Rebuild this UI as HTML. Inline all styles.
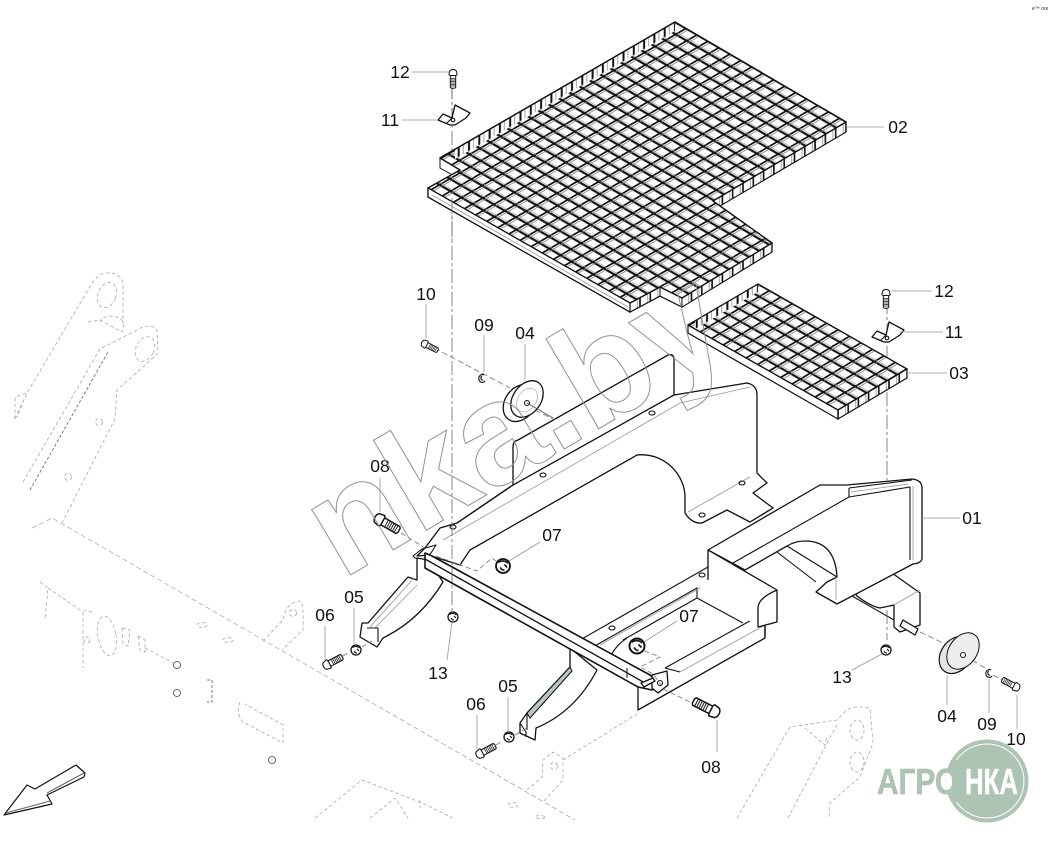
<!DOCTYPE html>
<html><head><meta charset="utf-8"><style>
html,body{margin:0;padding:0;background:#fff}
svg{display:block}
.g{fill:none;stroke:#a3ada8;stroke-width:.8;stroke-dasharray:3.5 2.5}
.gd{fill:none;stroke:#6a726e;stroke-width:.9;stroke-dasharray:3 2}
.k{fill:#fff;stroke:#111;stroke-width:1.3;stroke-linejoin:round}
.n{fill:none;stroke:#111;stroke-width:1.1;stroke-linejoin:round}
.t{fill:none;stroke:#8f9995;stroke-width:.8}
.l{fill:none;stroke:#6f7773;stroke-width:.8}
.a{fill:none;stroke:#666;stroke-width:.8;stroke-dasharray:14 3 3 3}
text.p{font:17.5px "Liberation Sans",sans-serif;fill:#111;text-anchor:middle}
</style></head><body>
<svg width="1048" height="843" viewBox="0 0 1048 843" xmlns="http://www.w3.org/2000/svg">
<defs>
<pattern id="g2" patternUnits="userSpaceOnUse" width="10" height="10" patternTransform="matrix(1.03 -.6 1.1 .64 675 22)">
<rect width="10" height="10" fill="#fff"/>
<path d="M0 0H10M0 10H10" stroke="#111" stroke-width="1.5" fill="none"/>
<path d="M0 0V10M10 0V10" stroke="#111" stroke-width="2.1" fill="none"/>
<path d="M0 2.1H10" stroke="#777" stroke-width=".7" fill="none"/>
<path d="M2.1 0V10" stroke="#999" stroke-width=".6" fill="none"/>
</pattern>
<pattern id="g3" patternUnits="userSpaceOnUse" width="10" height="10" patternTransform="matrix(1.02 -.61 1.15 .65 758 284)">
<rect width="10" height="10" fill="#fff"/>
<path d="M0 0H10M0 10H10" stroke="#111" stroke-width="1.4" fill="none"/>
<path d="M0 0V10M10 0V10" stroke="#111" stroke-width="2" fill="none"/>
<path d="M0 2.1H10" stroke="#777" stroke-width=".7" fill="none"/>
<path d="M2.1 0V10" stroke="#999" stroke-width=".6" fill="none"/>
</pattern>
<pattern id="w1" patternUnits="userSpaceOnUse" width="10.3" height="10" patternTransform="matrix(1 -.58 0 1 846 122)">
<rect width="10.3" height="10" fill="#fff"/><path d="M0 0V10M10.3 0V10" stroke="#111" stroke-width="1.6"/><path d="M7.5 0V10" stroke="#999" stroke-width=".9"/>
</pattern>
<pattern id="w2" patternUnits="userSpaceOnUse" width="10.3" height="10" patternTransform="matrix(1 -.58 0 1 675 22)">
<rect width="10.3" height="10" fill="#fff"/><path d="M0 0V10M10.3 0V10" stroke="#111" stroke-width="2"/><path d="M4.5 0V10" stroke="#999" stroke-width=".9"/>
</pattern>
<pattern id="w3" patternUnits="userSpaceOnUse" width="10.2" height="10" patternTransform="matrix(1 -.6 0 1 838 410)">
<rect width="10.2" height="10" fill="#fff"/><path d="M0 0V10M10.2 0V10" stroke="#111" stroke-width="1.6"/><path d="M7.5 0V10" stroke="#999" stroke-width=".9"/>
</pattern>
<pattern id="w4" patternUnits="userSpaceOnUse" width="10.2" height="10" patternTransform="matrix(1 -.6 0 1 758 284)">
<rect width="10.2" height="10" fill="#fff"/><path d="M0 0V10M10.2 0V10" stroke="#111" stroke-width="2"/><path d="M4.5 0V10" stroke="#999" stroke-width=".9"/>
</pattern>
<g id="bolt">
<path class="k" d="M0-4.5Q-2-3-2 0T0 4.5L5 5.5Q7 3 7 0T5-5.5Z"/>
<path class="k" d="M6-3.6H22L23-2V2L22 3.6H6Z"/>
<path d="M10-3.6V3.6M12-3.6V3.6M14-3.6V3.6M16-3.6V3.6M18-3.6V3.6M20-3.6V3.6" stroke="#222" stroke-width=".9"/>
</g>
<g id="nut">
<circle r="5" class="k"/><path class="n" d="M-3.5-2.5Q0-5 3.5-2M-2 1Q-1 3 1 3M1-1L3 1"/>
</g>
</defs>

<!-- ghost background -->
<g class="g">
<path d="M15 419V397L27 393L88 290Q98 272 107 273Q118 272 123 282V323"/>
<path d="M23 482L100 349L137 330Q150 322 157 330L158 353L143 367L117 390L115 419L62 523"/>
<path d="M30 490L108 352" class="gd"/>
<ellipse cx="107" cy="295" rx="9" ry="13" transform="rotate(20 107 295)"/>
<ellipse cx="145" cy="349" rx="9" ry="13" transform="rotate(25 145 349)"/>
<circle cx="99" cy="422" r="3.5"/><circle cx="68" cy="477" r="3.5"/>
<path d="M88 322L100 320L122 332Q128 318 112 316Q102 316 100 322"/>
<path d="M15 419L27 393M22 405L17 417"/>
<path d="M32 528L52 518L575 820" stroke-dasharray="5 3"/>
<path d="M40 582L48 588L45 620M48 588L80 610L92 612M83 612V668"/>
<ellipse cx="107" cy="636" rx="9" ry="20" transform="rotate(-10 107 636)"/>
<circle cx="87" cy="640" r="3"/>
<path d="M122 628L130 630L128 646L123 644ZM138 636L145 640V652L140 650ZM145 648L177 665"/>
<path d="M207 680H212V702H207" class="gd"/>
<path d="M240 702Q236 715 243 722L283 743V725L245 704"/>
<ellipse cx="202" cy="625" rx="5" ry="2.5"/><ellipse cx="228" cy="640" rx="5" ry="2.5"/>
<path d="M263 641L283 620Q286 602 300 601Q304 602 303 630L282 650"/>
<circle cx="293" cy="613" r="3.5"/>
<path d="M315 818L362 780L420 802L453 818M370 818L395 798L408 818M420 800V808"/>
<path d="M527 790L542 777L543 760L553 752L563 758V780L543 802M563 760L640 712"/>
<circle cx="554" cy="766" r="3.5"/><ellipse cx="513" cy="805" rx="5" ry="2.5"/><ellipse cx="540" cy="817" rx="5" ry="1.5"/>
<path d="M737 818L790 727L837 720L847 710Q855 705 870 708L873 743L860 777L830 803L829 818"/>
<path d="M788 818L827 743L837 725"/>
<ellipse cx="857" cy="730" rx="7" ry="10"/><ellipse cx="857" cy="762" rx="7" ry="10"/>
<path d="M805 728L825 745L827 735"/>
</g>
<g fill="#fff" stroke="#444" stroke-width=".8">
<circle cx="177" cy="665" r="3.5"/><circle cx="177" cy="693" r="3.5"/><circle cx="272" cy="760" r="3.5"/>
</g>
<!-- direction arrow -->
<path d="M4 815L27 785L35 789L76 765L85 773L84 777L47 795L52 804Z" fill="#fff" stroke="#111" stroke-width="1.2" stroke-linejoin="round"/>
<path d="M6 813L50 801M47 793L84 773" stroke="#666" stroke-width="1" fill="none"/>

<!-- left bracket panel -->
<path class="k" d="M513 447Q513 441 518 440L668 355Q674 353 674 360V395L747 383Q757 385 757 395V473L767 483L753 493L773 508L750 522L727 510L702 523Q692 524 685 513V495C683 470 660 452 637 455L470 550L460 565L428 555L417 556L425 548L440 528L457 523L513 485Z"/>
<path d="M457 523L513 485L674 395" stroke="#111" stroke-width="1.3" fill="none"/>
<path class="t" d="M443 540L680 403L750 387M688 512L750 477M750 527L773 513"/>
<path d="M750 522L773 508" stroke="#111" stroke-width="1"/>
<ellipse cx="543" cy="475" rx="3" ry="2" class="n"/><ellipse cx="652" cy="413" rx="3" ry="2" class="n"/>
<ellipse cx="453" cy="527" rx="3" ry="2" class="n"/><ellipse cx="742" cy="483" rx="3" ry="2" class="n"/><ellipse cx="702" cy="515" rx="3" ry="2" class="n"/>
<path class="n" d="M413 556L422 549L436 545L431 553L424 560L415 558Z"/>

<!-- left arm -->
<path class="k" d="M417 558V580L408 577L368 623L362 623L360 637L377 647L383 638Q420 620 443 582L428 560Z"/>
<path class="t" d="M370 627L414 578M375 628L417 585"/>
<path class="n" d="M367 628H378V642"/>
<!-- right arm -->
<path class="k" d="M570 648V667L527 713L520 723V733L535 740L536 728Q575 712 597 670Z"/>
<path d="M527 713L570 667L572 671L530 718Z" fill="#bcc5c0" stroke="#111" stroke-width="1"/>
<path class="n" d="M520 723L526 732V737M527 713V730"/>

<!-- tray -->
<path fill="#fff" d="M580 640L708 565V580L777 590V625L765 638L638 710V687Z"/>
<path class="n" d="M580 640L708 567V550M593 647L697 588V598M623 640L697 598L743 623M665 668L757 617M610 657Q616 645 627 638"/>
<path class="t" d="M680 672L765 625M600 645L700 588"/>
<path class="k" style="fill:none" d="M638 687V710L765 638V625"/>
<path class="n" d="M665 668L680 672"/>
<ellipse cx="612" cy="628" rx="3" ry="2" class="n"/><ellipse cx="702" cy="575" rx="3" ry="2" class="n"/>

<!-- front bar -->
<path class="k" style="stroke-width:1.6" d="M425 553L432 556L650 675L660 684L652 690L638 687L425 568Z"/>
<path d="M425 559L645 683" stroke="#111" stroke-width="1.3"/>
<path d="M570 648V667M627 668V678" stroke="#111" stroke-width="1"/>
<!-- lug -->
<path class="k" d="M652 675L667 671L668 685L658 693L652 688Z"/>
<circle cx="660" cy="683" r="2.5" class="n"/>
<path class="k" d="M641 683L653 678L655 681L644 687Z"/>

<!-- lower right bracket -->
<path class="k" d="M855 593L892 573L920 593V625L900 632L894 627V605L880 608Q870 606 857 596Z"/>
<path class="n" d="M852 596L894 620"/>
<path class="t" d="M894 605L920 590"/>
<path class="k" d="M900 626L903 620L918 629L915 635Z"/>

<!-- box 01 -->
<path class="n" d="M777 552L816 582M787 546L837 577"/>
<path class="k" d="M708 550L820 485L847 485L912 479Q922 480 922 488V558Q922 563 913 564L837 604L816 592L827 582L837 577Q835 541 805 541Q795 541 787 546L745 570Z"/>
<path fill="#fff" d="M708 550L777 590V622L758 627L708 590Z"/>
<path class="k" style="fill:none" d="M708 550V580M708 550L777 590V622L758 627V608Q758 598 777 590M765 625V637"/>
<path class="n" d="M733 563L849 497V488M849 488L912 480M849 497L910 487V560"/>
<path class="t" d="M913 486V560M851 492L908 484M836 577V600"/>

<!-- axis lines -->
<path class="a" d="M452 85V612"/>
<path class="a" d="M887 300V480M887 610V640"/>
<path class="l" stroke-dasharray="6 3" d="M434 348L510 388M535 410L555 420"/>
<path class="l" stroke-dasharray="6 3" d="M920 632L945 644M972 660L985 668M993 675L1004 681"/>
<path class="l" stroke-dasharray="5 3" d="M401 533L425 548M436 556L477 571L492 558L503 566"/>
<path class="l" stroke-dasharray="5 3" d="M637 648L660 657L640 667L653 674L665 690L690 702"/>
<path class="l" stroke-dasharray="5 3" d="M343 656L350 652M362 647L372 641M496 745L503 741M515 735L527 728"/>

<!-- main grating 02 -->
<path class="k" d="M428 188V197L630 312L660 296L682 307L772 252V243L713 210L846 132V122L713 200Z"/>
<path d="M630 303V312L660 296V287Z" fill="url(#w1)" stroke="#111"/>
<path d="M682 298V307L772 252V243Z" fill="url(#w1)" stroke="#111"/>
<path d="M713 201V210L846 132V122Z" fill="url(#w1)" stroke="#111"/>
<path d="M660 287V296L682 307V298Z" fill="#fff" stroke="#111"/>
<path d="M440 158V168L458 178L470 172L440 158Z" fill="#fff" stroke="#111"/>
<path d="M428 188L460 170L440 158L675 22L846 122L713 201L772 243L682 298L660 287L630 303Z" fill="url(#g2)" stroke="#111" stroke-width="1.4" stroke-linejoin="round"/>
<path d="M455 150L675 22V31L455 159Z" fill="url(#w2)" stroke="none"/>
<path d="M440 158L675 22L846 122" stroke="#111" stroke-width="1.4" fill="none"/>
<path d="M428 188V197L630 312V303Z" fill="#fff" stroke="#111" stroke-width="1.2"/>
<path d="M432 195L628 307" stroke="#999" stroke-width=".8"/>

<!-- grating 03 -->
<path d="M688 325V333L838 419V410Z" fill="#fff" stroke="#111" stroke-width="1.2"/>
<path d="M838 410V419L907 378V369Z" fill="url(#w3)" stroke="#111" stroke-width="1.2"/>
<path d="M688 325L758 284L907 369L838 410Z" fill="url(#g3)" stroke="#111" stroke-width="1.3" stroke-linejoin="round"/>
<path d="M695 321L758 284V292L695 329Z" fill="url(#w4)" stroke="none"/>
<path d="M688 325L758 284" stroke="#111" stroke-width="1.3"/>

<!-- axis over gratings -->
<path d="M452 85V120M452 198V240" stroke="#666" stroke-width=".8" stroke-dasharray="14 3 3 3"/>

<!-- clips -->
<path class="k" d="M438 120L443 114L452 118L455 105L470 113L466 118L455 125L450 125Z"/>
<path class="n" d="M447 123L452 118"/>
<circle cx="453" cy="120" r="1.8" class="n"/>
<path class="k" d="M872 337L877 331L886 335L889 322L904 330L900 335L889 342L884 342Z"/>
<path class="n" d="M881 340L886 335"/>
<circle cx="887" cy="338" r="1.8" class="n"/>

<!-- rubber mounts -->
<ellipse cx="520" cy="403" rx="15" ry="20" transform="rotate(35 520 403)" class="k"/>
<ellipse cx="527" cy="399" rx="14" ry="20" transform="rotate(35 527 399)" class="k"/>
<ellipse cx="527" cy="400" rx="9" ry="13" transform="rotate(35 527 400)" fill="none" stroke="#aaa" stroke-width=".7"/>
<circle cx="527" cy="403" r="2.5" class="n"/>
<path d="M527 403L553 418" stroke="#555" stroke-width=".8"/>
<ellipse cx="956" cy="655" rx="15" ry="20" transform="rotate(35 956 655)" fill="#e3e6e4" stroke="#111" stroke-width="1.2"/>
<ellipse cx="963" cy="651" rx="14" ry="20" transform="rotate(35 963 651)" fill="#eceeed" stroke="#111" stroke-width="1"/>
<circle cx="963" cy="655" r="2.5" fill="#fff" stroke="#111"/>

<!-- bolts -->
<use href="#bolt" transform="translate(453 71) rotate(90) scale(.75)"/>
<use href="#bolt" transform="translate(886 291) rotate(90) scale(.75)"/>
<use href="#bolt" transform="translate(423 343) rotate(27) scale(.72)"/>
<use href="#bolt" transform="translate(377 518) rotate(30) scale(1.1)"/>
<use href="#bolt" transform="translate(717 713) rotate(207) scale(1.15)"/>
<use href="#bolt" transform="translate(325 666) rotate(-28) scale(.85)"/>
<use href="#bolt" transform="translate(478 755) rotate(-28) scale(.85)"/>
<use href="#bolt" transform="translate(1018 688) rotate(208) scale(.78)"/>

<!-- nuts & washers -->
<use href="#nut" transform="translate(503 566) scale(1.4)"/>
<use href="#nut" transform="translate(637 646) scale(1.5)"/>
<use href="#nut" transform="translate(356 650)"/>
<use href="#nut" transform="translate(509 737)"/>
<use href="#nut" transform="translate(453 617)"/>
<use href="#nut" transform="translate(886 650)"/>
<path class="n" d="M484 375A3.5 4 0 1 0 485 381M482 376A1.5 2 0 1 0 483 380"/>
<path class="n" d="M991 670A3.5 4 0 1 0 992 676M989 671A1.5 2 0 1 0 990 675"/>

<!-- leaders -->
<g class="t">
<path d="M412 72H449M402 120H438M847 127H884M426 304V338M484 335V372M525 344V380M892 291H932M899 332H943M907 373H947M922 518H960"/>
<path d="M380 478V512M540 542L509 561M677 621L644 642M354 608V644M325 626V660M447 660L452 622M508 697V732M477 715V749M717 720V752M852 670L882 654M947 705V675M989 713V679M1017 729V695"/>
</g>

<!-- labels -->
<text class="p" x="400" y="78">12</text>
<text class="p" x="390" y="126">11</text>
<text class="p" x="898" y="133">02</text>
<text class="p" x="426" y="300">10</text>
<text class="p" x="484" y="331">09</text>
<text class="p" x="525" y="339">04</text>
<text class="p" x="944" y="297">12</text>
<text class="p" x="954" y="338">11</text>
<text class="p" x="959" y="379">03</text>
<text class="p" x="972" y="524">01</text>
<text class="p" x="380" y="472">08</text>
<text class="p" x="552" y="541">07</text>
<text class="p" x="689" y="622">07</text>
<text class="p" x="354" y="603">05</text>
<text class="p" x="325" y="621">06</text>
<text class="p" x="438" y="679">13</text>
<text class="p" x="508" y="692">05</text>
<text class="p" x="476" y="710">06</text>
<text class="p" x="711" y="773">08</text>
<text class="p" x="842" y="683">13</text>
<text class="p" x="947" y="722">04</text>
<text class="p" x="987" y="730">09</text>
<text class="p" x="1016" y="745">10</text>

<!-- watermark -->
<text x="342" y="580" transform="rotate(-30.5 342 580)" font-family="Liberation Sans, sans-serif" font-weight="700" font-size="144" fill="none" stroke="#8b9591" stroke-width="1">nka.by</text>

<!-- logo -->
<circle cx="987" cy="781" r="41.5" fill="#adc3b3"/>
<path d="M956.5 760A37 37 0 1 1 956.5 802" fill="none" stroke="#fff" stroke-width="1"/>
<ellipse cx="946.5" cy="781.5" rx="7" ry="9" fill="#fff"/>
<text x="877" y="794" font-family="Liberation Sans, sans-serif" font-weight="700" font-size="36" fill="#adc3b3" stroke="#adc3b3" stroke-width=".6" textLength="81" lengthAdjust="spacingAndGlyphs">АГРО</text>
<text x="965" y="794" font-family="Liberation Sans, sans-serif" font-weight="700" font-size="36" fill="#fff" stroke="#fff" stroke-width=".5" textLength="53" lengthAdjust="spacingAndGlyphs">НКА</text>

<text x="1032" y="10" font-family="Liberation Sans, sans-serif" font-size="5" fill="#222">e™ ooo</text>
</svg>
</body></html>
